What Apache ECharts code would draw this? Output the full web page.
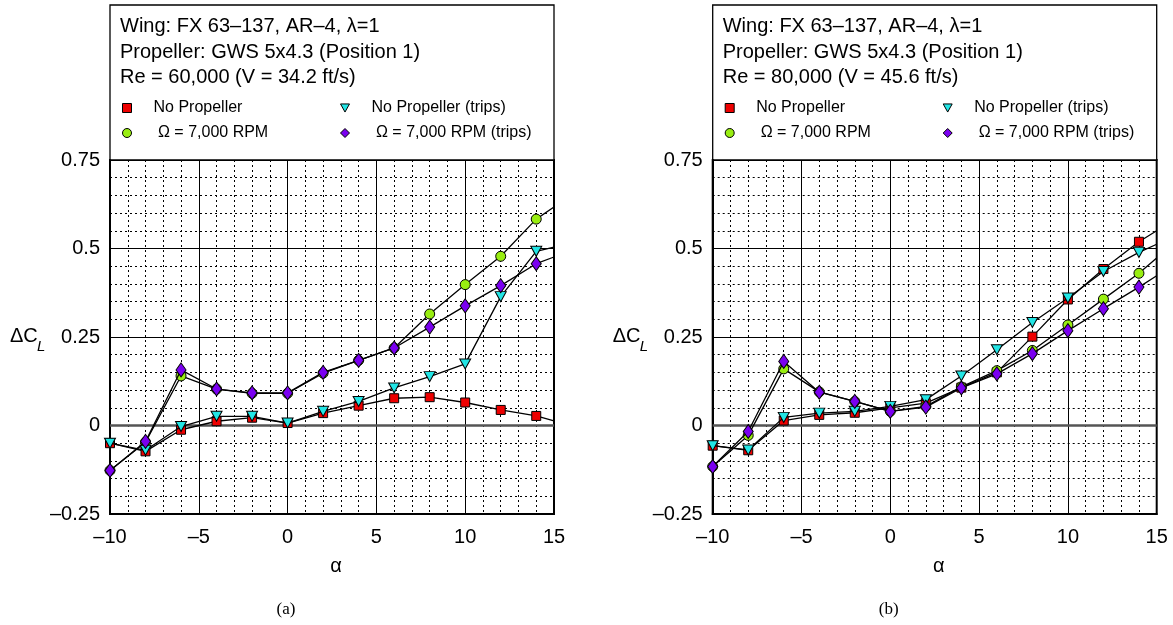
<!DOCTYPE html>
<html>
<head>
<meta charset="utf-8">
<script src="https://cdn.jsdelivr.net/npm/echarts@6/dist/echarts.min.js"></script>
<style>
html,body{margin:0;padding:0;background:#fff;}
#chart{width:1173px;height:625px;}
</style>
</head>
<body>
<div id="chart"></div>
<script>
// ---- data ----
const alpha = [-10, -8, -6, -4, -2, 0, 2, 4, 6, 8, 10, 12, 14, 15]; // last value: line continues to axis edge
const xTicks = [-10, -5, 0, 5, 10, 15];
const yTicks = [-0.25, 0, 0.25, 0.5, 0.75];

const seriesNames = ['No Propeller', 'No Propeller (trips)', ' \u03A9 = 7,000 RPM', ' \u03A9 = 7,000 RPM (trips)'];

// Panel (a) Re = 60,000
const a_noProp      = [-0.050, -0.073, -0.012, 0.012, 0.022, 0.007, 0.035, 0.056, 0.077, 0.080, 0.065, 0.044, 0.027, 0.013];
const a_noPropTrips = [-0.050, -0.070, -0.003, 0.026, 0.026, 0.007, 0.040, 0.068, 0.106, 0.138, 0.174, 0.364, 0.492, 0.504];
const a_rpm         = [-0.127, -0.047, 0.140, 0.103, 0.091, 0.091, 0.148, 0.184, 0.219, 0.315, 0.398, 0.478, 0.583, 0.617];
const a_rpmTrips    = [-0.127, -0.045, 0.157, 0.103, 0.092, 0.092, 0.150, 0.184, 0.219, 0.278, 0.338, 0.395, 0.457, 0.476];

// Panel (b) Re = 80,000
const b_noProp      = [-0.057, -0.070, 0.014, 0.030, 0.036, 0.050, 0.063, 0.107, 0.150, 0.251, 0.356, 0.442, 0.519, 0.550];
const b_noPropTrips = [-0.057, -0.069, 0.023, 0.035, 0.040, 0.054, 0.073, 0.140, 0.214, 0.291, 0.360, 0.435, 0.489, 0.512];
const b_rpm         = [-0.116, -0.028, 0.160, 0.095, 0.068, 0.040, 0.054, 0.109, 0.155, 0.212, 0.284, 0.357, 0.430, 0.473];
const b_rpmTrips    = [-0.116, -0.017, 0.181, 0.094, 0.068, 0.040, 0.052, 0.106, 0.146, 0.203, 0.268, 0.330, 0.391, 0.423];

const headerA = ['Wing: FX 63\u2013137, AR\u20134, \u03BB=1', 'Propeller: GWS 5x4.3 (Position 1)', 'Re = 60,000 (V = 34.2 ft/s)'];
const headerB = ['Wing: FX 63\u2013137, AR\u20134, \u03BB=1', 'Propeller: GWS 5x4.3 (Position 1)', 'Re = 80,000 (V = 45.6 ft/s)'];

// ---- styling / layout ----
const FONT = '"Liberation Sans", Arial, Helvetica, sans-serif';
const SERIF = '"Liberation Serif", "DejaVu Serif", serif';
const triDown = 'path://M0,0L10,0L5,9Z';
const styles = [
  {color: '#ee0000', symbol: 'rect', size: 9, icon: 'rect'},
  {color: '#22e5e5', symbol: triDown, size: [11, 10], icon: triDown},
  {color: '#99ee11', symbol: 'circle', size: 10, icon: 'circle'},
  {color: '#7a00f0', symbol: 'diamond', size: [10, 14], icon: 'diamond'}
];
const drawOrder = [0, 2, 1, 3];

const panels = [
  {left: 110, data: [a_noProp, a_noPropTrips, a_rpm, a_rpmTrips], header: headerA, tag: '(a)'},
  {left: 712.7, data: [b_noProp, b_noPropTrips, b_rpm, b_rpmTrips], header: headerB, tag: '(b)'}
];
const PW = 444, PT = 160, PH = 354;

const fmt = v => (v < 0 ? '\u2013' + String(Math.abs(v)) : String(v));

const option = {
  animation: false,
  backgroundColor: '#fff',
  grid: [], xAxis: [], yAxis: [], series: [], legend: [], title: [], graphic: []
};

panels.forEach((p, pi) => {
  option.grid.push({left: p.left, top: PT, width: PW, height: PH, show: true, borderColor: '#000', borderWidth: 2, backgroundColor: 'transparent', containLabel: false});
  option.xAxis.push({
    type: 'value', gridIndex: pi, min: xTicks[0], max: xTicks[xTicks.length - 1], interval: 5,
    axisLine: {show: true, onZero: false, lineStyle: {color: '#000', width: 2}},
    axisTick: {show: false},
    axisLabel: {fontFamily: FONT, fontSize: 20, color: '#000', margin: 13, formatter: fmt},
    splitLine: {show: true, lineStyle: {color: '#000', width: 1}},
    minorTick: {show: false, splitNumber: 5},
    minorSplitLine: {show: true, lineStyle: {color: '#000', width: 1, type: [2, 3]}}
  });
  option.yAxis.push({
    type: 'value', gridIndex: pi, min: yTicks[0], max: yTicks[yTicks.length - 1], interval: 0.25,
    axisLine: {show: true, onZero: false, lineStyle: {color: '#000', width: 2}},
    axisTick: {show: false},
    axisLabel: {fontFamily: FONT, fontSize: 20, color: '#000', margin: 10, formatter: fmt},
    splitLine: {show: true, lineStyle: {color: '#000', width: 1}},
    minorTick: {show: false, splitNumber: 5},
    minorSplitLine: {show: true, lineStyle: {color: '#000', width: 1, type: [2, 3]}}
  });

  drawOrder.forEach((si, k) => {
    const st = styles[si];
    const vals = p.data[si];
    const s = {
      type: 'line', name: seriesNames[si], xAxisIndex: pi, yAxisIndex: pi,
      data: vals.map((v, i) => i === vals.length - 1 ? {value: [alpha[i], v], symbol: 'none'} : [alpha[i], v]),
      symbol: st.symbol, symbolSize: st.size, showAllSymbol: true,
      lineStyle: {color: '#000', width: 1.3},
      itemStyle: {color: st.color, borderColor: '#000', borderWidth: 1},
      emphasis: {disabled: true},
      clip: true,
      z: 3 + k
    };
    if (k === 0) {
      s.markLine = {silent: true, symbol: 'none', label: {show: false},
        lineStyle: {color: '#555', width: 2.5, type: 'solid'}, data: [{yAxis: 0}], z: 1};
    }
    option.series.push(s);
  });

  // header box
  option.graphic.push({type: 'rect', shape: {x: p.left, y: 5, width: PW, height: PT - 5},
    style: {fill: '#fff', stroke: '#000', lineWidth: 1.3}, z: 0, silent: true});
  option.title.push({text: p.header.join('\n'), left: p.left + 10 - 5, top: 14 - 5,
    textStyle: {fontFamily: FONT, fontSize: 20, fontWeight: 'normal', color: '#000', lineHeight: 25.5}});

  // legend: 2 columns x 2 rows
  const cells = [
    {si: 0, dx: 12, y: 100}, {si: 1, dx: 230, y: 100},
    {si: 2, dx: 12, y: 125}, {si: 3, dx: 230, y: 125}
  ];
  cells.forEach(c => {
    option.legend.push({
      data: [{name: seriesNames[c.si], icon: styles[c.si].icon}],
      left: p.left + c.dx, top: c.y, padding: 0, itemWidth: 9, itemHeight: 9,
      selectedMode: false,
      itemStyle: {borderColor: '#000', borderWidth: 1},
      textStyle: {fontFamily: FONT, fontSize: 16, color: '#000', padding: [0, 0, 0, 17]}
    });
  });

  // axis titles and subfigure tag
  option.graphic.push({type: 'text', left: p.left - 100, top: 326,
    style: {text: '\u0394C', font: '20px ' + FONT, fill: '#000'}});
  option.graphic.push({type: 'text', left: p.left - 73, top: 339,
    style: {text: 'L', font: 'italic 15px ' + FONT, fill: '#000'}});
  option.graphic.push({type: 'text', x: p.left + 226, y: 566,
    style: {text: '\u03B1', font: '20px ' + FONT, fill: '#000', align: 'center', verticalAlign: 'middle'}});
  option.graphic.push({type: 'text', x: p.left + 176, y: 610,
    style: {text: p.tag, font: '17px ' + SERIF, fill: '#000', align: 'center', verticalAlign: 'middle'}});
});

const chart = echarts.init(document.getElementById('chart'), null, {renderer: 'canvas'});
chart.setOption(option);
</script>
</body>
</html>
